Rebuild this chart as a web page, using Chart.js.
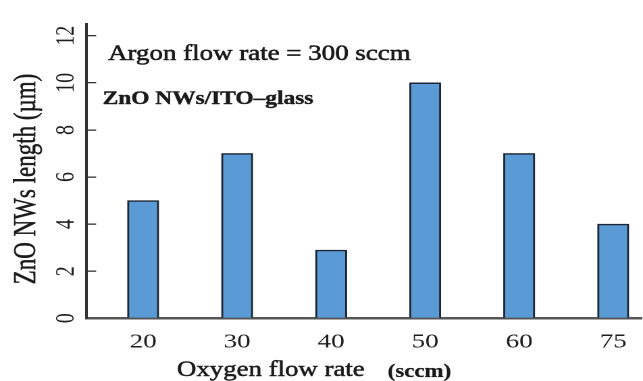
<!DOCTYPE html>
<html>
<head>
<meta charset="utf-8">
<script src="https://cdn.jsdelivr.net/npm/chart.js@4/dist/chart.umd.min.js"></script>
<style>
  html, body { margin: 0; padding: 0; background: #fff; overflow: hidden; }
  /* the figure is drawn narrow and widened horizontally, like the printed plot */
  #wrap { width: 476px; height: 381px; transform: scaleX(1.3508); transform-origin: 0 0; }
</style>
</head>
<body>
<div id="wrap"><canvas id="chart" width="476" height="381"></canvas></div>
<script>
// Oxygen flow rate (sccm) and resulting ZnO nanowire length (µm)
const categories = ['20', '30', '40', '50', '60', '75'];
const lengths = [5, 7, 2.9, 10, 7, 4];
const yTicks = [0, 2, 4, 6, 8, 10, 12];

const SERIF = "'Liberation Serif', 'Times New Roman', serif";
Chart.defaults.font.family = SERIF;
Chart.defaults.color = '#1e1e1e';

// writes text with a faint outline so the glyphs print a little heavier
function heavyText(ctx, text, x, y, maxWidth, weight) {
  ctx.lineWidth = weight;
  ctx.strokeText(text, x, y, maxWidth);
  ctx.fillText(text, x, y, maxWidth);
}

// captions and axis titles
const captions = {
  id: 'captions',
  afterDraw(chart) {
    const ctx = chart.ctx;
    ctx.save();
    ctx.fillStyle = '#1b1b1b';
    ctx.strokeStyle = '#1b1b1b';
    ctx.lineJoin = 'round';
    ctx.textBaseline = 'alphabetic';
    ctx.textAlign = 'left';

    ctx.font = '22px ' + SERIF;
    heavyText(ctx, 'Argon flow rate = 300 sccm', 80, 60, 224, 0.6);

    ctx.font = 'bold 19px ' + SERIF;
    heavyText(ctx, 'ZnO NWs/ITO\u2013glass', 76, 104, 156, 0.4);

    ctx.font = '22px ' + SERIF;
    heavyText(ctx, 'Oxygen flow rate', 131, 376, 139, 0.5);
    ctx.font = 'bold 19px ' + SERIF;
    heavyText(ctx, '(sccm)', 287, 377, 47, 0.3);

    ctx.translate(20, 179);
    ctx.rotate(-Math.PI / 2);
    ctx.textAlign = 'center';
    ctx.textBaseline = 'middle';
    ctx.font = '23px ' + SERIF;
    heavyText(ctx, 'ZnO NWs length (\u00b5m)', 0, 0, 218, 0.4);
    ctx.restore();
  }
};

new Chart(document.getElementById('chart'), {
  type: 'bar',
  data: {
    datasets: [{
      data: categories.map((c, i) => ({ x: i, y: lengths[i] })),
      backgroundColor: '#5b9bd5',
      borderColor: '#1d2632',
      borderWidth: 1.5,
      barThickness: 23
    }]
  },
  options: {
    responsive: false,
    devicePixelRatio: 2,
    animation: false,
    layout: { padding: { top: 23.3, right: 1, bottom: 0, left: 0 } },
    plugins: { legend: { display: false }, tooltip: { enabled: false } },
    scales: {
      x: {
        type: 'linear',
        offset: false,
        min: -0.6,
        max: 5.3,
        afterBuildTicks: s => { s.ticks = categories.map((c, i) => ({ value: i })); },
        afterFit: s => { s.height = 62.7; },
        ticks: {
          callback: v => categories[v],
          font: { size: 20 },
          color: '#1e1e1e',
          padding: 12,
          autoSkip: false,
          maxRotation: 0
        },
        grid: { drawOnChartArea: false, drawTicks: false, color: '#555' },
        border: { display: true, color: '#555', width: 2.5 }
      },
      y: {
        min: 0,
        max: 12.5,
        afterBuildTicks: s => { s.ticks = yTicks.map(v => ({ value: v })); },
        afterFit: s => { s.width = 64.2; },
        ticks: {
          minRotation: 90,
          maxRotation: 90,
          crossAlign: 'center',
          padding: 12,
          font: { size: 20 },
          color: '#1e1e1e'
        },
        grid: { drawOnChartArea: false, drawTicks: true, tickLength: -7, color: '#333', lineWidth: 1.3 },
        border: { display: true, color: '#333', width: 2 }
      }
    }
  },
  plugins: [captions]
});
</script>
</body>
</html>
